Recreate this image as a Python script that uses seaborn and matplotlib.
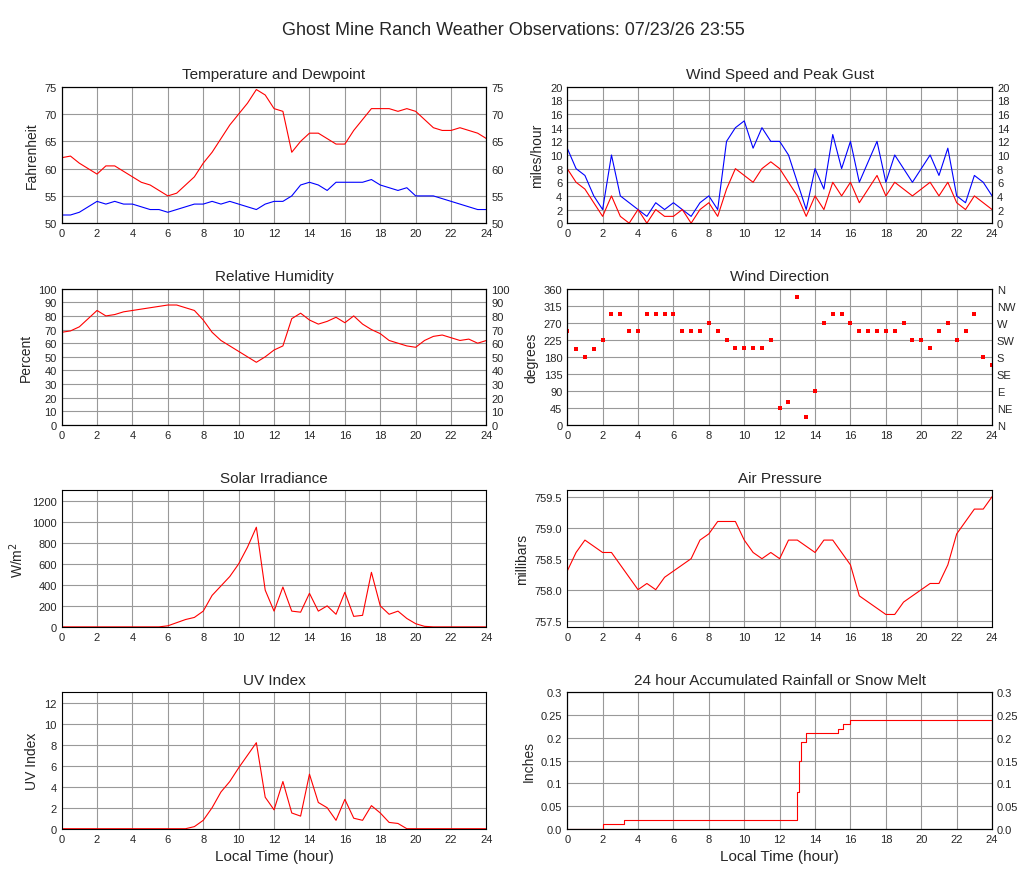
import numpy as np
import pandas as pd
import matplotlib
matplotlib.use("Agg")
import matplotlib.pyplot as plt
import seaborn as sns

hours = np.arange(0, 24.5, 0.5)

temp = [62, 62.3, 61, 60, 59, 60.5, 60.5, 59.5, 58.5, 57.5, 57, 56, 55, 55.5, 57, 58.5, 61, 63, 65.5, 68,
        70, 72, 74.5, 73.5, 71, 70.5, 63, 65, 66.5, 66.5, 65.5, 64.5, 64.5, 67, 69, 71, 71, 71, 70.5, 71,
        70.5, 69, 67.5, 67, 67, 67.5, 67, 66.5, 65.5]
dewpt = [51.5, 51.5, 52, 53, 54, 53.5, 54, 53.5, 53.5, 53, 52.5, 52.5, 52, 52.5, 53, 53.5, 53.5, 54, 53.5, 54,
         53.5, 53, 52.5, 53.5, 54, 54, 55, 57, 57.5, 57, 56, 57.5, 57.5, 57.5, 57.5, 58, 57, 56.5, 56, 56.5,
         55, 55, 55, 54.5, 54, 53.5, 53, 52.5, 52.5]
gust = [11, 8, 7, 4, 2, 10, 4, 3, 2, 1, 3, 2, 3, 2, 1, 3, 4, 2, 12, 14, 15, 11, 14, 12, 12, 10, 6, 2, 8, 5,
        13, 8, 12, 6, 9, 12, 6, 10, 8, 6, 8, 10, 7, 11, 4, 3, 7, 6, 4]
speed = [8, 6, 5, 3, 1, 4, 1, 0, 2, 0, 2, 1, 1, 2, 0, 2, 3, 1, 5, 8, 7, 6, 8, 9, 8, 6, 4, 1, 4, 2,
         6, 4, 6, 3, 5, 7, 4, 6, 5, 4, 5, 6, 4, 6, 3, 2, 4, 3, 2]
humidity = [68, 69, 72, 78, 84, 80, 81, 83, 84, 85, 86, 87, 88, 88, 86, 84, 77, 68, 62, 58, 54, 50, 46, 50,
            55, 58, 78, 82, 77, 74, 76, 79, 75, 80, 74, 70, 67, 62, 60, 58, 57, 62, 65, 66, 64, 62, 63, 60, 62]
wind_dir = [248, 200, 180, 200, 225, 292, 292, 248, 248, 292, 292, 292, 292, 248, 248, 248, 270, 248, 225,
            202, 202, 202, 202, 225, 45, 60, 338, 20, 90, 270, 292, 292, 270, 248, 248, 248, 248, 248, 270,
            225, 225, 202, 248, 270, 225, 248, 292, 180, 158]
pressure = [758.3, 758.6, 758.8, 758.7, 758.6, 758.6, 758.4, 758.2, 758.0, 758.1, 758.0, 758.2, 758.3, 758.4,
            758.5, 758.8, 758.9, 759.1, 759.1, 759.1, 758.8, 758.6, 758.5, 758.6, 758.5, 758.8, 758.8, 758.7,
            758.6, 758.8, 758.8, 758.6, 758.4, 757.9, 757.8, 757.7, 757.6, 757.6, 757.8, 757.9, 758.0, 758.1,
            758.1, 758.4, 758.9, 759.1, 759.3, 759.3, 759.5]
solar = [0] * 12 + [10, 40, 70, 90, 150, 300, 390, 480, 600, 760, 950, 350, 150, 380, 150, 140, 320, 150,
                    200, 120, 330, 100, 110, 520, 200, 120, 150, 80, 30, 5] + [0] * 7
uv = [0] * 15 + [0.2, 0.8, 2, 3.5, 4.5, 5.8, 7, 8.2, 3, 1.8, 4.5, 1.5, 1.2, 5.2, 2.5, 2, 0.8, 2.8, 1, 0.8,
                 2.2, 1.5, 0.6, 0.5] + [0] * 10
rain_t = [0, 2.0, 3.2, 12.9, 13.0, 13.1, 13.2, 13.5, 15.3, 15.6, 16.0, 24]
rain_v = [0, 0.01, 0.02, 0.02, 0.08, 0.15, 0.19, 0.21, 0.22, 0.23, 0.24, 0.24]
rain_ticks = [0, 0.05, 0.1, 0.15, 0.2, 0.25, 0.3]
rain_labels = ["0.0", "0.05", "0.1", "0.15", "0.2", "0.25", "0.3"]

sns.set_style("whitegrid", {"grid.color": "#999999", "axes.edgecolor": "black"})
plt.rcParams['font.family'] = ['Liberation Sans', 'DejaVu Sans']

fig, axes = plt.subplots(4, 2, figsize=(10.27, 8.78), dpi=100)
fig.subplots_adjust(left=0.06, right=0.966, top=0.9, bottom=0.055, wspace=0.19, hspace=0.48)
fig.suptitle("Ghost Mine Ranch Weather Observations: 07/23/26 23:55", fontsize=13, y=0.975)

def setup(ax, title, ylabel, ylim, yticks, right=False, rlabels=None):
    ax.set_title(title, fontsize=11)
    ax.set_ylabel(ylabel, fontsize=10)
    ax.set_xlim(0, 24)
    ax.set_xticks(range(0, 25, 2))
    ax.set_ylim(*ylim)
    ax.set_yticks(yticks)
    ax.tick_params(labelsize=8, length=0)
    for s in ax.spines.values():
        s.set_linewidth(0.8)
    if right:
        ax2 = ax.twinx()
        ax2.set_ylim(*ylim)
        ax2.set_yticks(yticks)
        if rlabels:
            ax2.set_yticklabels(rlabels)
        ax2.grid(False)
        ax2.tick_params(labelsize=8, length=0)

lw = 0.8
ax = axes[0, 0]
sns.lineplot(x=hours, y=temp, color="red", lw=lw, ax=ax)
sns.lineplot(x=hours, y=dewpt, color="blue", lw=lw, ax=ax)
setup(ax, "Temperature and Dewpoint", "Fahrenheit", (50, 75), range(50, 76, 5), True)

ax = axes[0, 1]
sns.lineplot(x=hours, y=gust, color="blue", lw=lw, ax=ax)
sns.lineplot(x=hours, y=speed, color="red", lw=lw, ax=ax)
setup(ax, "Wind Speed and Peak Gust", "miles/hour", (0, 20), range(0, 21, 2), True)

ax = axes[1, 0]
sns.lineplot(x=hours, y=humidity, color="red", lw=lw, ax=ax)
setup(ax, "Relative Humidity", "Percent", (0, 100), range(0, 101, 10), True)

ax = axes[1, 1]
sns.scatterplot(x=hours, y=wind_dir, color="red", marker="s", s=9, linewidth=0, ax=ax)
setup(ax, "Wind Direction", "degrees", (0, 360), range(0, 361, 45), True,
      ["N", "NE", "E", "SE", "S", "SW", "W", "NW", "N"])

ax = axes[2, 0]
sns.lineplot(x=hours, y=solar, color="red", lw=lw, ax=ax)
setup(ax, "Solar Irradiance", "W/m$^2$", (0, 1300), range(0, 1201, 200))

ax = axes[2, 1]
sns.lineplot(x=hours, y=pressure, color="red", lw=lw, ax=ax)
setup(ax, "Air Pressure", "millibars", (757.4, 759.6), [757.5, 758.0, 758.5, 759.0, 759.5])
ax.set_yticklabels(["757.5", "758.0", "758.5", "759.0", "759.5"])

ax = axes[3, 0]
sns.lineplot(x=hours, y=uv, color="red", lw=lw, ax=ax)
setup(ax, "UV Index", "UV Index", (0, 13), range(0, 13, 2))
ax.set_xlabel("Local Time (hour)", fontsize=11)

ax = axes[3, 1]
ax.plot(rain_t, rain_v, color="red", lw=lw, drawstyle="steps-post")
setup(ax, "24 hour Accumulated Rainfall or Snow Melt", "Inches", (0, 0.3), rain_ticks, True, rain_labels)
ax.set_yticklabels(rain_labels)
ax.set_xlabel("Local Time (hour)", fontsize=11)

fig.savefig("out.png", dpi=100)
